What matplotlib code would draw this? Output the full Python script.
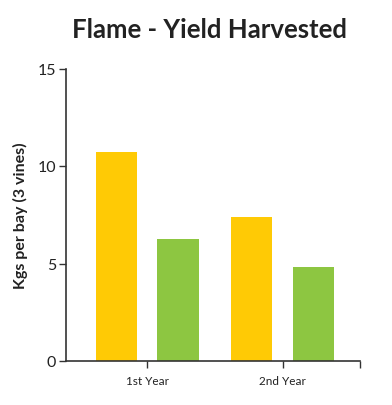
import matplotlib
matplotlib.use("Agg")
import matplotlib.pyplot as plt
import numpy as np

categories = ["1st Year", "2nd Year"]
series_a = [10.73, 7.40]
series_b = [6.24, 4.82]
colors = ["#FFCA05", "#8DC641"]

fig = plt.figure(figsize=(3.92, 4.06), dpi=100)
ax = fig.add_axes([66/392, 1-362/406, (360-66)/392, (362-69.5)/406])

x = np.arange(len(categories))
off = 0.228
w = 0.305
ax.bar(x - off, series_a, width=w, color=colors[0])
ax.bar(x + off, series_b, width=w, color=colors[1])

ax.set_xlim(-0.6, 1.571)
ax.set_ylim(0, 15)
ax.set_yticks([0, 5, 10, 15])
ax.set_xticks(list(x) + [1.571])
ax.set_xticklabels(categories + [""], fontsize=8.5, family="Lato")
for lab in ax.get_yticklabels():
    lab.set_fontsize(11.5)
    lab.set_family("Lato")
ax.spines["top"].set_visible(False)
ax.spines["right"].set_visible(False)
for s in ["left", "bottom"]:
    ax.spines[s].set_color("#333333")
    ax.spines[s].set_linewidth(1.2)
ax.tick_params(axis="both", direction="out", length=5, width=1, color="#333333", labelcolor="#222222")
ax.tick_params(axis="y", pad=2)
ax.tick_params(axis="x", pad=5)

ax.set_ylabel("Kgs per bay (3 vines)", fontsize=11.5, family="Lato", fontweight="bold", color="#222222")
ax.yaxis.set_label_coords(-(66-28)/294, 0.5)
fig.text(210/392, 1-30/406, "Flame - Yield Harvested", ha="center", va="center",
         fontsize=18.5, family="Lato", fontweight="bold", color="#222222")

fig.savefig("out.png", dpi=100)
